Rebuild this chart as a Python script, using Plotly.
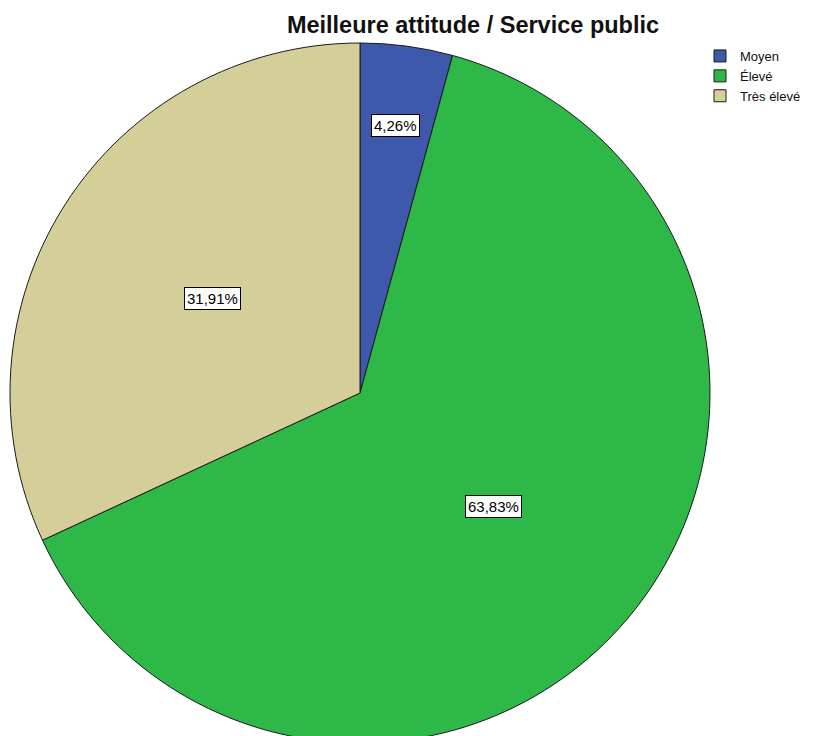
import math
import plotly.graph_objects as go

categories = ["Moyen", "Élevé", "Très élevé"]
values = [4.26, 63.83, 31.91]
text_labels = ["4,26%", "63,83%", "31,91%"]
colors = ["#3E58AC", "#2EB848", "#D4CE99"]
title = "Meilleure attitude / Service public"

W, H = 815, 750
cx, cy, r = 360, 393, 350

fig = go.Figure()
fig.add_trace(go.Pie(
    labels=categories, values=values, sort=False, direction="clockwise",
    rotation=0, marker=dict(colors=colors, line=dict(color="#1a1a1a", width=1)),
    textinfo="none", hoverinfo="label+percent",
    domain=dict(x=[(cx - r) / W, (cx + r) / W], y=[(H - cy - r) / H, (H - cy + r) / H]),
))

total = sum(values)
cum = 0
for v, t in zip(values, text_labels):
    frac = v / total
    mid = (cum + frac / 2) * 2 * math.pi
    cum += frac
    f = 0.5 if frac > 0.1 else 0.77
    px = cx + f * r * math.sin(mid)
    py = cy - f * r * math.cos(mid)
    fig.add_annotation(x=px / W, y=(H - py) / H, xref="paper", yref="paper",
                       xanchor="center", yanchor="middle",
                       text=t, showarrow=False,
                       font=dict(family="Liberation Sans, Arial", size=15, color="black"),
                       bgcolor="white", bordercolor="black", borderwidth=1, borderpad=2)

fig.update_layout(
    width=W, height=H, margin=dict(l=0, r=0, t=0, b=0),
    paper_bgcolor="white", plot_bgcolor="white",
    title=dict(text="<b>" + title + "</b>", x=473 / W, xanchor="center",
               y=(H - 25) / H, yanchor="middle",
               font=dict(family="Liberation Sans, Arial", size=23.5, color="#111")),
    legend=dict(x=700 / W, y=(H - 41) / H, xanchor="left", yanchor="top",
                font=dict(family="Liberation Sans, Arial", size=13, color="#111"),
                itemwidth=30, tracegroupgap=0, bgcolor="rgba(0,0,0,0)"),
    showlegend=True,
)

fig.write_html("out.html", config={"displayModeBar": False},
               post_script="document.body.style.overflow='hidden';document.body.style.margin='0';")
